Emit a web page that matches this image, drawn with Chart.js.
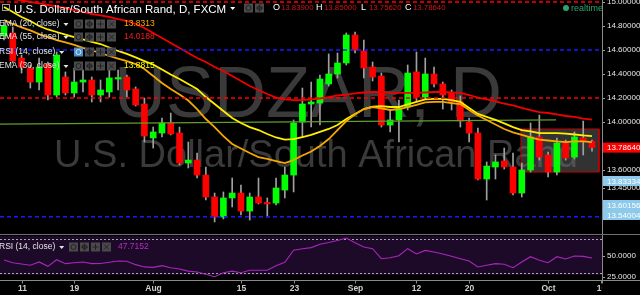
<!DOCTYPE html>
<html>
<head>
<meta charset="utf-8">
<script src="https://cdn.jsdelivr.net/npm/chart.js@4.4.1/dist/chart.umd.min.js"></script>
<style>
  html, body { margin: 0; padding: 0; background: #000; width: 640px; height: 295px; overflow: hidden; }
  #price { position: absolute; left: 0; top: 0; }
  #rsi { position: absolute; left: 0; top: 235px; }
  .sep { position: absolute; left: 0; top: 234px; width: 640px; height: 1px; background: #6e6e6e; }
</style>
</head>
<body>
<canvas id="price" width="640" height="234"></canvas>
<div class="sep"></div>
<canvas id="rsi" width="640" height="60"></canvas>
<script>
// daily candles, 7 Jul -> 10 Oct (index 1..68)
const opens = [14.717,14.742,14.533,14.450,14.333,14.483,14.225,14.375,14.242,14.333,14.350,14.225,14.250,14.358,14.375,14.275,14.150,13.867,13.908,13.992,
  13.908,13.658,13.683,13.558,13.375,13.208,13.367,13.408,13.258,13.375,13.325,13.325,13.433,13.558,14.000,14.150,14.158,14.317,14.400,14.492,
  14.725,14.592,14.458,14.383,13.975,14.017,14.125,14.417,14.208,14.400,14.317,14.242,14.167,14.000,13.908,13.525,13.625,13.675,13.625,13.408,
  13.600,13.875,13.725,13.583,13.825,13.708,13.867,13.839];
const highs = [14.833,14.792,14.558,14.475,14.533,14.500,14.583,14.417,14.450,14.433,14.375,14.350,14.450,14.433,14.392,14.292,14.200,13.958,14.033,14.075,
  13.958,13.833,13.742,13.625,13.408,13.417,13.533,13.475,13.408,13.533,13.367,13.533,13.625,14.017,14.283,14.333,14.392,14.567,14.575,14.742,
  14.750,14.683,14.500,14.408,14.100,14.183,14.475,14.583,14.533,14.458,14.333,14.267,14.217,14.033,13.950,13.667,13.725,13.783,13.742,13.658,
  13.992,14.058,13.750,13.867,13.850,13.917,14.008,13.850];
const lows = [14.683,14.492,14.408,14.283,14.267,14.183,14.208,14.225,14.208,14.250,14.167,14.167,14.208,14.267,14.208,14.133,13.833,13.783,13.875,13.892,
  13.642,13.617,13.533,13.350,13.167,13.192,13.292,13.225,13.183,13.317,13.208,13.308,13.367,13.417,13.875,13.958,13.975,14.300,14.367,14.475,
  14.575,14.367,14.342,13.958,13.917,13.833,14.100,14.167,14.192,14.292,14.108,14.100,13.958,13.833,13.517,13.350,13.525,13.608,13.392,13.375,
  13.583,13.683,13.542,13.558,13.683,13.692,13.725,13.7562];
const closes = [14.800,14.508,14.458,14.333,14.458,14.225,14.558,14.242,14.333,14.350,14.225,14.267,14.367,14.367,14.267,14.142,13.883,13.917,13.992,13.900,
  13.658,13.683,13.558,13.375,13.208,13.367,13.408,13.258,13.375,13.325,13.317,13.450,13.558,13.992,14.150,14.167,14.358,14.400,14.492,14.725,
  14.600,14.450,14.375,13.975,14.017,14.117,14.408,14.208,14.400,14.317,14.225,14.167,14.008,13.908,13.525,13.633,13.667,13.625,13.408,13.600,
  13.875,13.708,13.583,13.825,13.700,13.875,13.842,13.7864];

const ema20 = [14.850,14.817,14.788,14.763,14.733,14.708,14.683,14.663,14.642,14.617,14.596,14.575,14.550,14.529,14.508,14.483,14.442,14.383,14.325,14.275,
  14.229,14.179,14.108,14.025,13.958,13.883,13.817,13.779,13.742,13.708,13.692,13.675,13.658,13.683,13.721,13.754,13.800,13.858,13.933,14.008,
  14.063,14.108,14.125,14.113,14.100,14.108,14.125,14.142,14.163,14.167,14.167,14.158,14.150,14.100,14.054,14.017,13.979,13.942,13.913,13.892,
  13.871,13.854,13.846,13.838,13.833,13.838,13.838,13.832];
const ema30 = [14.958,14.917,14.875,14.842,14.800,14.771,14.750,14.729,14.708,14.688,14.667,14.650,14.621,14.592,14.567,14.538,14.508,14.479,14.438,14.396,
  14.358,14.317,14.275,14.208,14.150,14.092,14.033,13.992,13.958,13.933,13.900,13.871,13.854,13.858,13.875,13.892,13.917,13.942,13.975,14.025,
  14.067,14.108,14.129,14.133,14.125,14.125,14.146,14.167,14.188,14.192,14.192,14.183,14.167,14.117,14.067,14.042,14.017,13.988,13.958,13.933,
  13.921,13.908,13.908,13.908,13.904,13.896,13.888,13.882];
const ema55 = [15.042,15.025,15.013,15.000,14.988,14.975,14.963,14.950,14.933,14.917,14.900,14.888,14.875,14.858,14.842,14.817,14.783,14.742,14.700,14.658,
  14.617,14.575,14.533,14.500,14.458,14.425,14.383,14.342,14.300,14.267,14.233,14.204,14.188,14.183,14.183,14.188,14.196,14.208,14.221,14.229,
  14.238,14.246,14.250,14.250,14.242,14.242,14.242,14.242,14.246,14.250,14.250,14.246,14.242,14.225,14.204,14.188,14.171,14.154,14.138,14.117,
  14.100,14.083,14.075,14.063,14.050,14.042,14.029,14.019];
const rsi14 = [45.3,42.0,40.5,39.0,42.9,37.7,45.6,40.9,42.0,42.9,40.9,41.0,42.5,44.0,43.7,39.7,37.0,36.5,38.5,36.0,
  34.5,32.0,31.0,28.2,25.4,30.1,32.0,30.0,33.0,33.0,33.0,38.5,42.5,56.8,58.7,60.0,64.0,66.0,68.5,71.4,
  65.9,60.7,58.7,46.8,48.0,50.4,58.7,52.4,56.7,54.8,52.4,49.6,46.8,44.0,36.9,38.9,40.9,40.1,36.1,42.9,
  49.2,44.9,42.0,49.2,46.4,50.0,49.6,47.7];

// drawings
const redLevels = [15.0, 14.2];
const blueLevels = [14.6, 13.21];
const trendX = [0.5, 63.9];
const trendY = [13.983, 14.017];
const zoneX = [59.9, 68.8];
const zoneY = [13.942, 13.583];

// axes
const priceTicks = [15.0, 14.8, 14.6, 14.4, 14.2, 14.0, 13.8, 13.6, 13.45];
const rsiTicks = [50, 25];
const rsiBands = [70, 30];
const xTickIdx = [3, 9, 18, 28, 34, 41, 48, 54, 63, 69];
const xTickText = ['11', '19', 'Aug', '15', '23', 'Sep', '12', '20', 'Oct', '10'];
const sideBadges = ['13.83334', '13.60156', '13.54004'];

const pairName = 'U.S. Dollar/South African Rand';
const symbol = 'USDZAR';
const legendRows = [
  { name: 'EMA (20, close)', val: '13.8313', color: '#ffa800' },
  { name: 'EMA (55, close)', val: '14.0188', color: '#ff1a1a' },
  { name: 'RSI (14, close)', val: null, color: null },
  { name: 'EMA (30, close)', val: '13.8815', color: '#ffff00' }
];
const rsiLabel = '47.7152';

const xMin = 0.544, xMax = 69.14;
const idx = opens.map((_, i) => i + 1);
const FONT = '"Liberation Sans", Arial, sans-serif';

function caret(ctx, x, y, c) {
  ctx.fillStyle = c;
  ctx.beginPath();
  ctx.moveTo(x, y); ctx.lineTo(x + 5, y); ctx.lineTo(x + 2.5, y + 3);
  ctx.closePath(); ctx.fill();
}

function icons(ctx, x, y, n, hi) {
  for (let i = 0; i < n; i++) {
    const bx = x + i * 11;
    ctx.fillStyle = (hi && i === 0) ? '#4e8fc7' : '#4a4a4a';
    ctx.fillRect(bx, y - 4.5, 9, 9);
    ctx.strokeStyle = (hi && i === 0) ? '#cfe6f7' : '#222';
    ctx.lineWidth = 1;
    ctx.beginPath();
    const cx = bx + 4.5, cy = y;
    if (i === 0) { ctx.arc(cx, cy, 2.5, 0, Math.PI * 2); }
    else if (i === 1) { ctx.arc(cx, cy, 2.2, 0, Math.PI * 2); ctx.moveTo(cx, cy - 3.5); ctx.lineTo(cx, cy + 3.5); ctx.moveTo(cx - 3.5, cy); ctx.lineTo(cx + 3.5, cy); }
    else if (i === 2) { ctx.moveTo(cx - 3, cy); ctx.lineTo(cx + 3, cy); ctx.moveTo(cx, cy - 3); ctx.lineTo(cx, cy + 3); }
    else { ctx.moveTo(cx - 2.5, cy - 2.5); ctx.lineTo(cx + 2.5, cy + 2.5); ctx.moveTo(cx + 2.5, cy - 2.5); ctx.lineTo(cx - 2.5, cy + 2.5); }
    ctx.stroke();
  }
}

const priceDeco = {
  id: 'priceDeco',
  beforeDatasetsDraw(chart) {
    const { ctx, chartArea: a } = chart;
    ctx.save();
    ctx.fillStyle = '#3a3a3a';
    ctx.textAlign = 'center';
    ctx.textBaseline = 'alphabetic';
    const cx = (a.left + a.right) / 2 + 7;
    ctx.font = '72px ' + FONT;
    ctx.fillText(symbol + ', D', cx, 117);
    ctx.font = '38px ' + FONT;
    ctx.fillText(pairName, cx + 8, 167);
    ctx.restore();
  },
  afterDraw(chart) {
    const { ctx, chartArea: a, scales: { y } } = chart;
    ctx.save();
    // header
    ctx.strokeStyle = '#9a9a9a';
    ctx.lineWidth = 1;
    ctx.strokeRect(2.5, 4.5, 7, 6);
    ctx.fillStyle = '#ffffff';
    ctx.font = '11.5px ' + FONT;
    ctx.textAlign = 'left';
    ctx.textBaseline = 'alphabetic';
    const head = pairName + ', D, FXCM';
    ctx.fillText(head, 14, 13);
    caret(ctx, 14 + ctx.measureText(head).width + 4, 7, '#ffffff');
    icons(ctx, 244, 8, 2, false);
    const last = closes.length - 1;
    const ohlc = [['O', opens[last], 273], ['H', highs[last], 316], ['L', lows[last], 361], ['C', closes[last], 405]];
    ctx.textBaseline = 'middle';
    ohlc.forEach(([k, v, x]) => {
      ctx.font = '9px ' + FONT;
      ctx.fillStyle = '#ffffff';
      ctx.fillText(k, x, 8);
      ctx.font = '7.8px ' + FONT;
      ctx.fillStyle = '#d41414';
      ctx.fillText(v.toFixed(5), x + 8, 8);
    });
    ctx.fillStyle = '#2fa468';
    ctx.beginPath(); ctx.arc(566, 8, 3, 0, Math.PI * 2); ctx.fill();
    ctx.font = '9px ' + FONT;
    ctx.fillText('realtime', 571, 8.5);

    // indicator legend rows
    const rowsY = [24, 37, 52, 66];
    legendRows.forEach((r, i) => {
      const ry = rowsY[i];
      ctx.font = '8.5px ' + FONT;
      ctx.fillStyle = '#e4e4e4';
      ctx.fillText(r.name, -1, ry);
      caret(ctx, ctx.measureText(r.name).width + 3, ry - 1, '#e4e4e4');
      icons(ctx, 74, ry, 4, r.val === null);
      if (r.val) {
        ctx.font = '8.5px ' + FONT;
        ctx.fillStyle = r.color;
        ctx.fillText(r.val, 124, ry);
      }
    });

    // price badges on the axis
    const ax = a.right + 1;
    const py = y.getPixelForValue(closes[last]);
    ctx.fillStyle = '#ff0000';
    ctx.fillRect(ax, py - 5, 640 - ax, 10);
    ctx.fillStyle = '#ffffff';
    ctx.font = '8px ' + FONT;
    ctx.fillText(closes[last].toFixed(5), ax + 4, py + 0.5);
    const by = [181, 205, 215];
    sideBadges.forEach((t, i) => {
      ctx.fillStyle = '#8cc9ea';
      ctx.fillRect(ax, by[i] - 5, 640 - ax, 10);
      ctx.fillStyle = '#ffffff';
      ctx.fillText(t, ax + 4, by[i] + 0.5);
    });
    ctx.restore();
  }
};

const rsiDeco = {
  id: 'rsiDeco',
  beforeDatasetsDraw(chart) {
    const { ctx, chartArea: a, scales: { y } } = chart;
    ctx.save();
    const t = y.getPixelForValue(74), b = y.getPixelForValue(27.5);
    ctx.fillStyle = '#1d0a29';
    ctx.fillRect(a.left, t, a.right - a.left, b - t);
    ctx.strokeStyle = '#a8a8a8';
    ctx.lineWidth = 1;
    ctx.setLineDash([2, 2]);
    rsiBands.forEach(v => {
      const p = Math.round(y.getPixelForValue(v)) + 0.5;
      ctx.beginPath(); ctx.moveTo(a.left, p); ctx.lineTo(a.right, p); ctx.stroke();
    });
    ctx.restore();
  },
  afterDraw(chart) {
    const { ctx, chartArea: a, scales: { x } } = chart;
    ctx.save();
    ctx.textBaseline = 'middle';
    ctx.textAlign = 'left';
    ctx.font = '8.5px ' + FONT;
    ctx.fillStyle = '#e4e4e4';
    const nm = 'RSI (14, close)';
    ctx.fillText(nm, -1, 12);
    caret(ctx, ctx.measureText(nm).width + 3, 11, '#e4e4e4');
    icons(ctx, 69, 12, 4, false);
    ctx.fillStyle = '#b02ec4';
    ctx.fillText(rsiLabel, 118, 12);

    // time axis
    const base = Math.round(a.bottom) + 0.5;
    ctx.strokeStyle = '#8a8a8a';
    ctx.beginPath(); ctx.moveTo(0, base); ctx.lineTo(640, base); ctx.stroke();
    ctx.beginPath(); ctx.moveTo(a.right + 0.5, base); ctx.lineTo(a.right + 0.5, base + 3); ctx.stroke();
    ctx.beginPath(); ctx.rect(0, base, a.right, 20); ctx.clip();
    ctx.font = 'bold 8.5px ' + FONT;
    ctx.fillStyle = '#d0d0d0';
    ctx.textAlign = 'center';
    xTickIdx.forEach((k, i) => {
      const px = Math.round(x.getPixelForValue(k)) + 0.5;
      ctx.beginPath(); ctx.moveTo(px, base); ctx.lineTo(px, base + 3); ctx.stroke();
      ctx.fillText(xTickText[i], px, base + 8.5);
    });
    ctx.restore();
  }
};

const candleWicks = idx.map((k, i) => ({ x: k, y: [lows[i], highs[i]] }));
const candleBodies = idx.map((k, i) => ({ x: k, y: [opens[i], closes[i]] }));
const bodyColors = idx.map((k, i) => closes[i] >= opens[i] ? '#00ff00' : '#ff0000');
const line = (arr) => idx.map((k, i) => ({ x: k, y: arr[i] }));
const level = (v) => [{ x: xMin, y: v }, { x: xMax, y: v }];

const datasets = [
  {
    type: 'line', data: [
      { x: zoneX[0], y: zoneY[0] }, { x: zoneX[1], y: zoneY[0] },
      { x: zoneX[1], y: zoneY[1] }, { x: zoneX[0], y: zoneY[1] }, { x: zoneX[0], y: zoneY[0] }
    ],
    borderColor: '#c00000', borderWidth: 1, backgroundColor: 'rgba(110,110,110,0.45)',
    fill: 'shape', pointRadius: 0, order: 9
  },
  { type: 'bar', data: candleWicks, backgroundColor: '#a0a0a0', barThickness: 1, grouped: false, order: 6 },
  { type: 'bar', data: candleBodies, backgroundColor: bodyColors, barThickness: 6, grouped: false, minBarLength: 1.5, order: 5 },
  { type: 'line', data: trendX.map((v, i) => ({ x: v, y: trendY[i] })), borderColor: '#5f9e2e', borderWidth: 1.2, pointRadius: 0, order: 4 },
  { type: 'line', data: line(ema55), borderColor: '#f00000', borderWidth: 1.8, pointRadius: 0, order: 3 },
  { type: 'line', data: line(ema30), borderColor: '#ffee00', borderWidth: 1.8, pointRadius: 0, order: 2 },
  { type: 'line', data: line(ema20), borderColor: '#f5a800', borderWidth: 1.8, pointRadius: 0, order: 1 }
];
redLevels.forEach(v => datasets.push({ type: 'line', data: level(v), borderColor: '#ff0000', borderWidth: 1.5, borderDash: [4, 3], pointRadius: 0, order: 0 }));
blueLevels.forEach(v => datasets.push({ type: 'line', data: level(v), borderColor: '#1a1aff', borderWidth: 1.5, borderDash: [4, 3], pointRadius: 0, order: 0 }));

const rightAxis = (ticks, fmt, min, max) => ({
  position: 'right', min, max,
  afterBuildTicks: s => { s.ticks = ticks.map(v => ({ value: v })); },
  afterFit: s => { s.width = 38; s.paddingTop = 0; s.paddingBottom = 0; },
  grid: { drawOnChartArea: false, drawTicks: true, tickLength: 3, color: '#a0a0a0' },
  border: { display: true, color: '#8a8a8a' },
  ticks: { color: '#e6e6e6', font: { size: 8, family: FONT }, padding: 2, callback: v => v.toFixed(fmt) }
});

const timeAxis = { type: 'linear', min: xMin, max: xMax, offset: false, display: false };

new Chart(document.getElementById('price'), {
  type: 'bar',
  data: { datasets },
  options: {
    responsive: false, animation: false, events: [], devicePixelRatio: 1,
    layout: { padding: 0 },
    plugins: { legend: { display: false }, tooltip: { enabled: false } },
    scales: {
      x: timeAxis,
      y: rightAxis(priceTicks, 5, 13.0667, 15.0167)
    }
  },
  plugins: [priceDeco]
});

new Chart(document.getElementById('rsi'), {
  type: 'line',
  data: { datasets: [{ data: line(rsi14), borderColor: '#a826bb', borderWidth: 1.1, pointRadius: 0 }] },
  options: {
    responsive: false, animation: false, events: [], devicePixelRatio: 1,
    layout: { padding: { bottom: 15 } },
    plugins: { legend: { display: false }, tooltip: { enabled: false } },
    scales: {
      x: timeAxis,
      y: rightAxis(rsiTicks, 4, 21.43, 75)
    }
  },
  plugins: [rsiDeco]
});
</script>
</body>
</html>
